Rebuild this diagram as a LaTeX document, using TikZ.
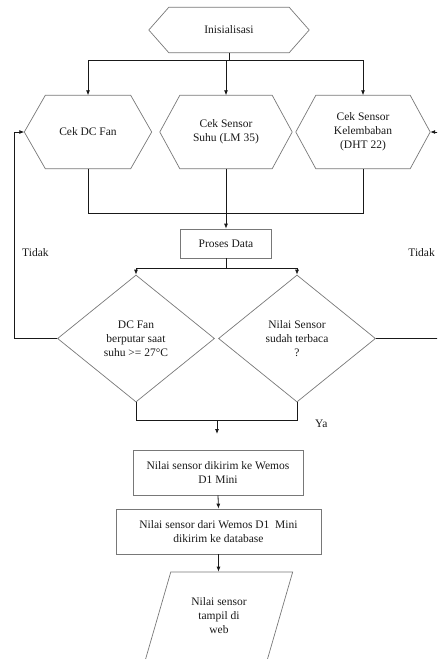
\documentclass[tikz,border=0pt]{standalone}
\usepackage{fontspec}
\setmainfont{Liberation Serif}
\usetikzlibrary{shapes.geometric,arrows.meta}
\definecolor{flowgray}{RGB}{120,120,120}
\definecolor{flowink}{RGB}{25,25,25}
\newcommand{\flowfont}{\fontsize{11.5}{14}\selectfont}
\tikzset{
  hexbox/.style={rectangle, minimum height=73pt, inner sep=0pt, align=center, font=\flowfont, text=flowink},
  procbox/.style={rectangle, draw=flowgray, line width=0.7pt, minimum height=45pt, inner sep=2pt,
    align=center, font=\flowfont, text=flowink},
  decbox/.style={diamond, draw=flowgray, line width=0.7pt, minimum width=157pt, minimum height=127pt,
    inner sep=0pt, align=center, font=\flowfont, text=flowink},
  iobox/.style={trapezium, trapezium left angle=68, trapezium right angle=112, trapezium stretches=true,
    draw=flowgray, line width=0.7pt, minimum width=148pt, minimum height=88pt, inner sep=0pt,
    align=center, font=\flowfont, text=flowink},
  shapeline/.style={draw=flowgray, line width=0.7pt},
  linestyle/.style={flowink, line width=0.8pt},
  arrowstyle/.style={-{Latex[length=5pt,width=4pt]}, flowink, line width=0.8pt},
  labelstyle/.style={font=\flowfont, text=flowink, inner sep=0pt}
}
% hexagon round a plain node: #1 node, #2 tip length
\newcommand{\hexdraw}[2]{%
  \draw[shapeline] (#1.west) -- ([xshift=#2]#1.north west) -- ([xshift=-#2]#1.north east)
    -- (#1.east) -- ([xshift=-#2]#1.south east) -- ([xshift=#2]#1.south west) -- cycle;}

\begin{document}
\begin{tikzpicture}[x=1pt, y=-1pt]
  \useasboundingbox (0,0) rectangle (437,659);
  \clip (0,0) rectangle (437,659);
  % preparation
  \node[hexbox, minimum width=160pt, minimum height=45pt] (init) at (229,30) {Inisialisasi};
  \hexdraw{init}{20pt}
  \node[hexbox, minimum width=127pt] (cekfan) at (88,132) {Cek DC Fan};
  \hexdraw{cekfan}{21pt}
  \node[hexbox, minimum width=132pt] (ceksuhu) at (226,132) {Cek Sensor\\Suhu (LM 35)};
  \hexdraw{ceksuhu}{20pt}
  \node[hexbox, minimum width=134pt] (cekdht) at (363,132) {Cek Sensor\\Kelembaban\\(DHT 22)};
  \hexdraw{cekdht}{20pt}
  \coordinate (split) at (229,60);
  \draw[linestyle] (init.south) -- (split);
  \draw[linestyle] (cekfan |- split) -- (cekdht |- split);
  \draw[arrowstyle] (cekfan |- split) -- (cekfan.north);
  \draw[arrowstyle] (ceksuhu |- split) -- (ceksuhu.north);
  \draw[arrowstyle] (cekdht |- split) -- (cekdht.north);
  % processing
  \node[procbox, minimum width=91pt, minimum height=29pt] (proses) at (226,243.5) {Proses Data};
  \coordinate (merge) at (226,213);
  \draw[linestyle] (cekfan.south) |- (cekdht.south |- merge) -- (cekdht.south);
  \draw[arrowstyle] (ceksuhu.south) -- (proses.north);
  \node[decbox] (dcfan) at (136,338.5) {DC Fan\\berputar saat\\suhu >= 27°C};
  \node[decbox] (nilai) at (297,338.5) {Nilai Sensor\\sudah terbaca\\?};
  \coordinate (fork) at (226,268);
  \draw[linestyle] (proses.south) -- (fork);
  \draw[linestyle] (dcfan.north |- fork) -- (nilai.north |- fork);
  \draw[arrowstyle] (dcfan.north |- fork) -- (dcfan.north);
  \draw[arrowstyle] (nilai.north |- fork) -- (nilai.north);
  % back loops
  \coordinate (loopL) at (14,338.5);
  \coordinate (loopR) at (450,338.5);
  \draw[arrowstyle] (dcfan.west) -- (loopL) |- (cekfan.west);
  \draw[arrowstyle] (nilai.east) -- (loopR) |- (cekdht.east);
  \node[labelstyle, anchor=west] (tidakL) at (22,253) {Tidak};
  \node[labelstyle, anchor=east] (tidakR) at (435,253) {Tidak};
  % output
  \coordinate (join) at (217,420);
  \coordinate (joinend) at (217,434);
  \draw[linestyle] (dcfan.south) |- (nilai.south |- join) -- (nilai.south);
  \draw[arrowstyle] (join) -- (joinend);
  \node[labelstyle, anchor=west] (ya) at (315,424) {Ya};
  \node[procbox, minimum width=170pt] (kirim) at (218,472.5) {Nilai sensor dikirim ke Wemos\\D1 Mini};
  \node[procbox, minimum width=205pt] (db) at (218.5,531.5) {Nilai sensor dari Wemos D1\ \ Mini\\dikirim ke database};
  \node[iobox] (web) at (219,616) {Nilai sensor\\tampil di\\web};
  \draw[arrowstyle] (kirim.south) -- (db.north);
  \draw[arrowstyle] (db.south) -- (db.south |- web.north);
\end{tikzpicture}
\end{document}
